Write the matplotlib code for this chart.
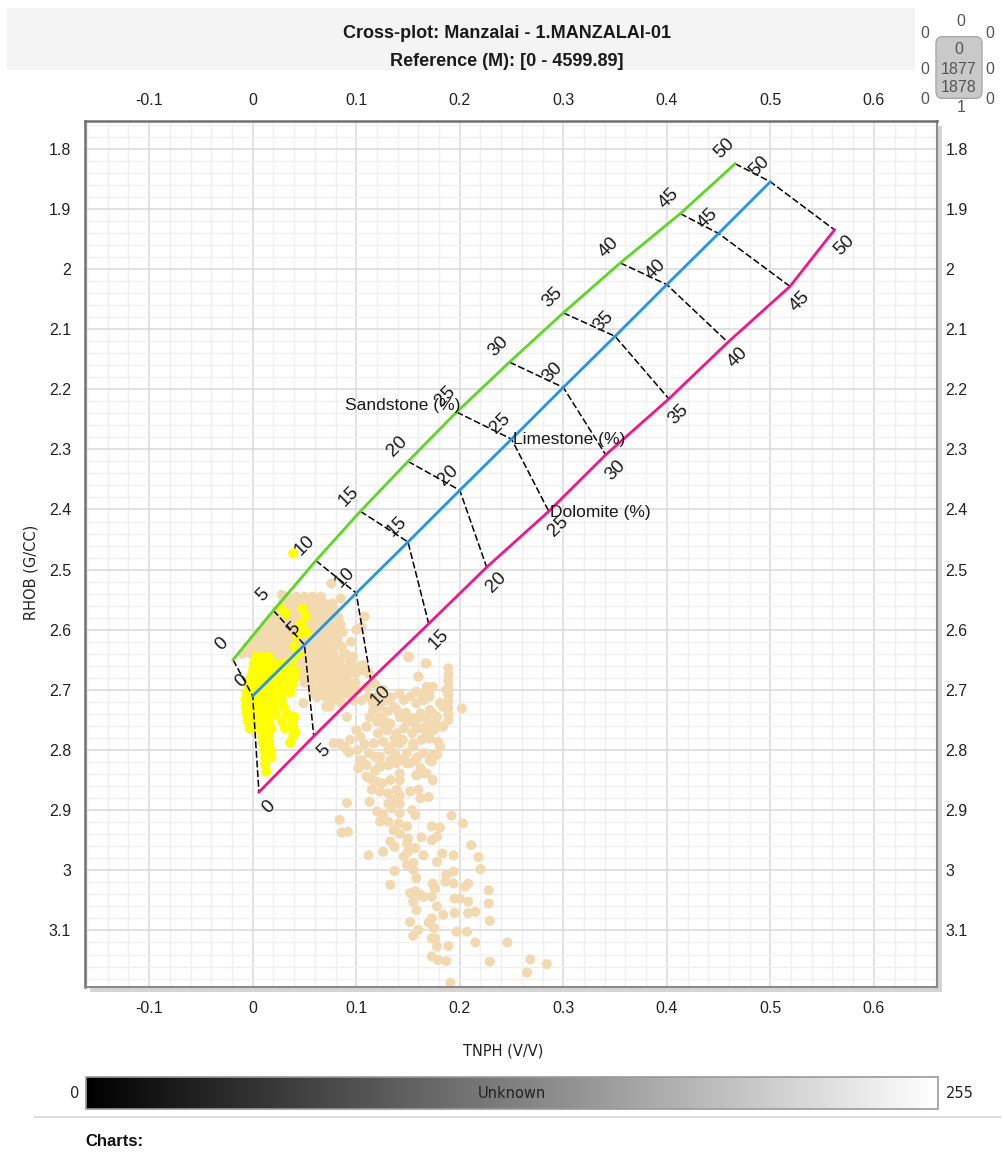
import matplotlib
matplotlib.use('Agg')
import matplotlib.pyplot as plt
from matplotlib.patches import Rectangle, FancyBboxPatch
from matplotlib.lines import Line2D
from matplotlib.ticker import MultipleLocator
import matplotlib.cm as cm
import matplotlib.colors as mcolors

# ---- chart data --------------------------------------------------------------
TITLE_1 = 'Cross-plot: Manzalai - 1.MANZALAI-01'
TITLE_2 = 'Reference (M): [0 - 4599.89]'
X_LABEL = 'TNPH (V/V)'
Y_LABEL = 'RHOB (G/CC)'
X_LIM = (-0.162, 0.661)
Y_LIM = (3.194, 1.754)
X_TICKS = [-0.1, 0, 0.1, 0.2, 0.3, 0.4, 0.5, 0.6]
Y_TICKS = [1.8, 1.9, 2.0, 2.1, 2.2, 2.3, 2.4, 2.5, 2.6, 2.7, 2.8, 2.9, 3.0, 3.1]

# lithology lines (porosity %, neutron, density)
POROSITY = [0, 5, 10, 15, 20, 25, 30, 35, 40, 45, 50]
SAND_TNPH = [-0.019, 0.020, 0.061, 0.104, 0.150, 0.197, 0.248, 0.300, 0.355, 0.413, 0.466]
SAND_RHOB = [2.650, 2.568, 2.485, 2.403, 2.320, 2.238, 2.155, 2.073, 1.990, 1.908, 1.825]
LIME_TNPH = [0.000, 0.050, 0.100, 0.150, 0.200, 0.250, 0.300, 0.350, 0.400, 0.450, 0.500]
LIME_RHOB = [2.710, 2.625, 2.539, 2.454, 2.368, 2.283, 2.197, 2.112, 2.026, 1.941, 1.855]
DOLO_TNPH = [0.006, 0.059, 0.114, 0.170, 0.226, 0.286, 0.341, 0.402, 0.459, 0.519, 0.562]
DOLO_RHOB = [2.870, 2.777, 2.683, 2.590, 2.496, 2.403, 2.309, 2.216, 2.122, 2.029, 1.935]
LITH_NAMES = ['Sandstone (%)', 'Limestone (%)', 'Dolomite (%)']

# tan (unknown zone) samples: dense blob rows (rhob, [tnph ...]) and scattered points
TAN_ROWS = [
    (2.545, [0.034, 0.042, 0.050, 0.058, 0.066]),
    (2.556, [0.029, 0.037, 0.045, 0.053, 0.061, 0.069, 0.077]),
    (2.568, [0.023, 0.031, 0.039, 0.047, 0.055, 0.063, 0.071, 0.079]),
    (2.580, [0.018, 0.026, 0.034, 0.042, 0.050, 0.058, 0.066, 0.074, 0.083]),
    (2.592, [0.012, 0.020, 0.028, 0.036, 0.044, 0.052, 0.060, 0.068, 0.076, 0.085]),
    (2.604, [0.006, 0.014, 0.022, 0.030, 0.038, 0.046, 0.054, 0.062, 0.070, 0.078, 0.087]),
    (2.616, [0.001, 0.009, 0.017, 0.025, 0.033, 0.041, 0.049, 0.057, 0.065, 0.073, 0.082]),
    (2.628, [-0.005, 0.003, 0.011, 0.019, 0.027, 0.035, 0.043, 0.051, 0.059, 0.067, 0.075, 0.086]),
    (2.640, [-0.010, -0.002, 0.006, 0.014, 0.022, 0.030, 0.038, 0.046, 0.054, 0.062, 0.070, 0.078, 0.090]),
    (2.652, [0.004, 0.012, 0.020, 0.028, 0.036, 0.044, 0.052, 0.060, 0.068, 0.076, 0.084, 0.094]),
    (2.664, [0.024, 0.032, 0.040, 0.048, 0.056, 0.064, 0.072, 0.080, 0.088, 0.097]),
    (2.676, [0.044, 0.052, 0.060, 0.068, 0.076, 0.084, 0.092]),
    (2.688, [0.050, 0.058, 0.066, 0.074, 0.082, 0.090, 0.099]),
    (2.700, [0.058, 0.066, 0.075, 0.088]),
    (2.712, [0.062, 0.071, 0.080]),
]
TAN_POINTS = [
    (0.076, 2.523), (0.028, 2.542), (0.085, 2.548),
    (0.108, 2.578), (0.105, 2.595), (0.100, 2.600), (0.095, 2.620),
    (0.068, 2.623), (0.078, 2.631), (0.088, 2.639), (0.097, 2.645), (0.076, 2.648),
    (0.084, 2.659), (0.092, 2.670), (0.071, 2.667), (0.080, 2.678), (0.088, 2.684),
    (0.068, 2.689), (0.075, 2.700), (0.091, 2.667), (0.100, 2.672), (0.107, 2.661),
    (0.110, 2.695), (0.094, 2.695), (0.087, 2.706), (0.078, 2.717), (0.071, 2.728),
    (0.065, 2.684), (0.055, 2.667), (0.052, 2.684), (0.058, 2.706), (0.049, 2.722),
    (0.106, 2.667), (0.112, 2.672), (0.104, 2.660), (0.102, 2.664),
    (0.150, 2.645), (0.160, 2.678), (0.167, 2.656), (0.168, 2.695), (0.163, 2.706),
    (0.171, 2.700), (0.151, 2.645), (0.168, 2.656), (0.160, 2.678), (0.158, 2.703),
    (0.174, 2.695),
    (0.189, 2.664), (0.189, 2.675), (0.189, 2.686), (0.189, 2.697), (0.189, 2.708),
    (0.189, 2.719), (0.189, 2.730), (0.189, 2.741), (0.189, 2.750),
    (0.202, 2.731), (0.181, 2.722), (0.171, 2.711), (0.142, 2.706), (0.129, 2.717),
    (0.116, 2.722), (0.123, 2.745), (0.139, 2.733), (0.149, 2.750), (0.162, 2.745),
    (0.174, 2.739), (0.184, 2.761), (0.091, 2.745), (0.100, 2.767), (0.110, 2.761),
    (0.084, 2.789), (0.091, 2.800), (0.104, 2.817), (0.110, 2.844), (0.116, 2.850),
    (0.123, 2.828), (0.133, 2.817), (0.142, 2.839), (0.152, 2.822), (0.162, 2.839),
    (0.171, 2.817), (0.174, 2.850), (0.181, 2.794), (0.155, 2.794), (0.168, 2.772),
    (0.145, 2.783),
    (0.088, 2.700), (0.080, 2.700), (0.094, 2.709), (0.101, 2.700), (0.086, 2.722),
    (0.075, 2.728), (0.097, 2.717), (0.105, 2.717), (0.112, 2.711), (0.120, 2.711),
    (0.123, 2.728), (0.130, 2.736), (0.136, 2.728), (0.146, 2.717), (0.152, 2.711),
    (0.158, 2.722), (0.165, 2.717), (0.113, 2.745), (0.120, 2.753), (0.126, 2.750),
    (0.133, 2.756), (0.142, 2.745), (0.149, 2.753), (0.155, 2.747), (0.162, 2.739),
    (0.171, 2.733), (0.178, 2.745), (0.184, 2.728), (0.187, 2.700), (0.110, 2.761),
    (0.121, 2.772), (0.130, 2.767), (0.139, 2.772), (0.146, 2.764), (0.154, 2.772),
    (0.160, 2.764), (0.167, 2.761), (0.175, 2.767), (0.183, 2.761), (0.094, 2.783),
    (0.104, 2.778), (0.117, 2.789), (0.126, 2.786), (0.134, 2.794), (0.142, 2.789),
    (0.155, 2.789), (0.163, 2.783), (0.171, 2.781), (0.179, 2.786), (0.078, 2.789),
    (0.088, 2.794), (0.101, 2.800), (0.112, 2.805), (0.123, 2.811), (0.138, 2.808),
    (0.149, 2.805), (0.165, 2.805), (0.178, 2.808), (0.105, 2.667), (0.112, 2.673),
    (0.107, 2.659), (0.102, 2.664),
    (0.118, 2.690), (0.126, 2.700), (0.134, 2.712), (0.116, 2.735), (0.127, 2.760),
    (0.137, 2.780), (0.148, 2.738), (0.157, 2.757), (0.168, 2.748), (0.176, 2.756),
    (0.108, 2.790), (0.131, 2.800), (0.145, 2.815), (0.159, 2.812), (0.118, 2.835),
    (0.093, 2.804), (0.105, 2.817), (0.102, 2.830), (0.110, 2.825), (0.118, 2.811),
    (0.123, 2.825), (0.131, 2.825), (0.139, 2.822), (0.149, 2.822), (0.157, 2.817),
    (0.162, 2.830), (0.168, 2.839), (0.158, 2.842), (0.173, 2.819), (0.174, 2.808),
    (0.113, 2.847), (0.120, 2.853), (0.125, 2.855), (0.133, 2.850), (0.142, 2.850),
    (0.115, 2.866), (0.123, 2.869), (0.131, 2.872), (0.139, 2.866), (0.142, 2.875),
    (0.152, 2.869), (0.160, 2.866), (0.162, 2.880), (0.170, 2.878), (0.091, 2.888),
    (0.113, 2.886), (0.131, 2.889), (0.137, 2.883), (0.142, 2.889), (0.134, 2.897),
    (0.120, 2.902), (0.126, 2.908), (0.142, 2.905), (0.154, 2.900), (0.157, 2.908),
    (0.084, 2.916), (0.123, 2.919), (0.131, 2.919), (0.141, 2.922), (0.149, 2.927),
    (0.173, 2.927), (0.181, 2.929), (0.192, 2.909), (0.203, 2.922), (0.086, 2.937),
    (0.092, 2.936), (0.136, 2.933), (0.142, 2.939), (0.150, 2.947), (0.163, 2.945),
    (0.173, 2.950), (0.178, 2.944), (0.149, 2.955), (0.157, 2.963), (0.133, 2.952),
    (0.137, 2.961), (0.126, 2.969), (0.112, 2.975), (0.146, 2.977), (0.150, 2.969),
    (0.165, 2.975), (0.183, 2.972), (0.194, 2.975), (0.211, 2.958), (0.218, 2.978),
    (0.149, 2.991), (0.155, 2.988), (0.178, 2.986), (0.137, 3.001), (0.155, 2.999),
    (0.158, 3.013), (0.187, 3.008), (0.194, 3.002), (0.220, 2.998), (0.133, 3.024),
    (0.152, 3.038), (0.157, 3.035), (0.162, 3.041), (0.174, 3.022), (0.176, 3.030),
    (0.186, 3.019), (0.194, 3.022), (0.205, 3.027), (0.208, 3.022), (0.228, 3.033),
    (0.155, 3.052), (0.165, 3.044), (0.173, 3.044), (0.195, 3.047), (0.200, 3.047),
    (0.208, 3.052), (0.228, 3.055), (0.158, 3.066), (0.178, 3.060), (0.184, 3.074),
    (0.195, 3.071), (0.208, 3.071), (0.215, 3.069), (0.229, 3.084), (0.152, 3.086),
    (0.170, 3.087), (0.173, 3.080), (0.160, 3.099), (0.155, 3.109), (0.175, 3.096),
    (0.197, 3.102), (0.207, 3.102), (0.173, 3.113), (0.176, 3.113), (0.178, 3.127),
    (0.189, 3.126), (0.215, 3.120), (0.246, 3.120), (0.173, 3.143), (0.179, 3.149),
    (0.187, 3.151), (0.229, 3.152), (0.268, 3.148), (0.265, 3.170), (0.284, 3.156),
    (0.191, 3.187),
]

# yellow (flagged zone) samples: dense rows and scattered points
YELLOW_ROWS = [
    (2.645, [0.003, 0.009, 0.015]),
    (2.656, [0.001, 0.008, 0.015, 0.022, 0.030]),
    (2.668, [0.000, 0.007, 0.014, 0.021, 0.028, 0.035, 0.041]),
    (2.680, [-0.002, 0.005, 0.012, 0.019, 0.026, 0.033, 0.040]),
    (2.692, [-0.004, 0.003, 0.010, 0.017, 0.024, 0.031, 0.038]),
    (2.704, [-0.006, 0.001, 0.008, 0.015, 0.022, 0.029, 0.036]),
    (2.716, [-0.007, 0.000, 0.007, 0.014, 0.021, 0.028]),
    (2.728, [-0.007, 0.000, 0.007, 0.014, 0.021, 0.030]),
    (2.740, [-0.006, 0.001, 0.008, 0.015, 0.022, 0.033]),
    (2.752, [-0.005, 0.002, 0.009, 0.016, 0.028, 0.038]),
    (2.764, [-0.003, 0.004, 0.011, 0.018, 0.031]),
    (2.776, [0.009, 0.015, 0.039]),
    (2.788, [0.010, 0.016, 0.036]),
    (2.800, [0.011, 0.017]),
    (2.812, [0.012, 0.018]),
    (2.824, [0.012]),
    (2.836, [0.013]),
]
YELLOW_POINTS = [
    (0.039, 2.473), (0.048, 2.565), (0.051, 2.578), (0.046, 2.590), (0.028, 2.566),
    (0.032, 2.574), (0.049, 2.600), (0.052, 2.606), (0.043, 2.612), (0.040, 2.628),
    (0.044, 2.640), (0.038, 2.650), (0.040, 2.745), (0.038, 2.760), (0.041, 2.770),
]

TAN_COLOR = '#F2D9AF'
YELLOW_COLOR = '#FFFF00'
SAND_COLOR = '#5CD627'
LIME_COLOR = '#1E96EE'
DOLO_COLOR = '#F2168C'

W, H = 1004, 1153


def fx(px):
    return px / W


def fy(py):
    return 1 - py / H


def expand(rows, points):
    xs, ys = [], []
    for rho, tnphs in rows:
        for t in tnphs:
            xs.append(t)
            ys.append(rho)
    for t, rho in points:
        xs.append(t)
        ys.append(rho)
    return xs, ys


plt.rcParams['font.family'] = ['Liberation Sans', 'DejaVu Sans']
fig = plt.figure(figsize=(W / 100, H / 100), dpi=100)

# header band
fig.patches.append(Rectangle((fx(7), fy(70)), fx(915) - fx(7), fy(8) - fy(70),
                             transform=fig.transFigure, facecolor='#f4f4f4',
                             edgecolor='none', zorder=-10))
fig.text(fx(507), fy(33), TITLE_1, ha='center', va='center', fontsize=13,
         fontweight='bold', color='#1a1a1a')
fig.text(fx(507), fy(62), TITLE_2, ha='center', va='center', fontsize=13,
         fontweight='bold', color='#1a1a1a')

# axes and its drop shadow
left, right, top, bottom = 85, 937, 121, 987
fig.patches.append(Rectangle((fx(left + 5), fy(bottom + 5)), fx(right) - fx(left),
                             fy(top) - fy(bottom), transform=fig.transFigure,
                             facecolor='#d4d4d4', edgecolor='none', zorder=-10))
ax = fig.add_axes([fx(left), fy(bottom), fx(right) - fx(left), fy(top) - fy(bottom)])
ax.set_xlim(*X_LIM)
ax.set_ylim(*Y_LIM)
ax.set_axisbelow(True)

ax.set_xticks(X_TICKS)
ax.set_xticklabels([f'{v:g}' for v in X_TICKS])
ax.set_yticks(Y_TICKS)
ax.set_yticklabels([f'{v:g}' for v in Y_TICKS])
ax.xaxis.set_minor_locator(MultipleLocator(0.02))
ax.yaxis.set_minor_locator(MultipleLocator(0.02))
ax.grid(which='major', color='#dcdcdc', lw=1.2)
ax.grid(which='minor', color='#efefef', lw=0.9)
ax.tick_params(which='both', length=0, labelsize=11.5, colors='#222222')
ax.tick_params(axis='x', pad=10)
ax.tick_params(axis='y', pad=10)
for side in ['top', 'left']:
    ax.spines[side].set_color('#707070')
    ax.spines[side].set_linewidth(1.8)
for side in ['right', 'bottom']:
    ax.spines[side].set_color('#8a8a8a')
    ax.spines[side].set_linewidth(1.5)

secx = ax.secondary_xaxis('top')
secx.set_xticks(X_TICKS)
secx.set_xticklabels([f'{v:g}' for v in X_TICKS])
secx.tick_params(length=0, pad=9, labelsize=11.5, colors='#222222')
secy = ax.secondary_yaxis('right')
secy.set_yticks(Y_TICKS)
secy.set_yticklabels([f'{v:g}' for v in Y_TICKS])
secy.tick_params(length=0, pad=6, labelsize=11.5, colors='#222222')
for s in (secx, secy):
    for sp in s.spines.values():
        sp.set_visible(False)

fig.text(fx(31), fy(572), Y_LABEL, rotation=90, ha='center', va='center',
         fontsize=10.5, family='DejaVu Sans', color='#222222')
fig.text(fx(503), fy(1051), X_LABEL, ha='center', va='center',
         fontsize=10.5, family='DejaVu Sans', color='#222222')

# samples
tx, ty = expand(TAN_ROWS, TAN_POINTS)
ax.scatter(tx, ty, s=52, color=TAN_COLOR, edgecolors='none', zorder=2)
yx, yy = expand(YELLOW_ROWS, YELLOW_POINTS)
ax.scatter(yx, yy, s=52, color=YELLOW_COLOR, edgecolors='none', zorder=3)

# porosity connectors
for i in range(len(POROSITY)):
    ax.plot([SAND_TNPH[i], LIME_TNPH[i], DOLO_TNPH[i]],
            [SAND_RHOB[i], LIME_RHOB[i], DOLO_RHOB[i]],
            color='black', lw=1.1, ls=(0, (4.5, 1.8)), zorder=4)

# lithology lines
lines = [(SAND_TNPH, SAND_RHOB, SAND_COLOR, (-8, 11)),
         (LIME_TNPH, LIME_RHOB, LIME_COLOR, (-8, 11)),
         (DOLO_TNPH, DOLO_RHOB, DOLO_COLOR, (7, -11))]
for xs, ys, col, off in lines:
    ax.plot(xs, ys, color=col, lw=2, zorder=5)
    for p, x, y in zip(POROSITY, xs, ys):
        ax.annotate(str(p), (x, y), xytext=off, textcoords='offset points',
                    rotation=45, ha='center', va='center', fontsize=13.5,
                    color='#1a1a1a', zorder=6)

mid = POROSITY.index(25)
ax.annotate(LITH_NAMES[0], (SAND_TNPH[mid], SAND_RHOB[mid]), xytext=(3, 5),
            textcoords='offset points', ha='right', va='center', fontsize=12.5,
            color='#1a1a1a', zorder=6)
ax.annotate(LITH_NAMES[1], (LIME_TNPH[mid], LIME_RHOB[mid]), xytext=(1, 0),
            textcoords='offset points', ha='left', va='center', fontsize=12.5,
            color='#1a1a1a', zorder=6)
ax.annotate(LITH_NAMES[2], (DOLO_TNPH[mid], DOLO_RHOB[mid]), xytext=(1, -1),
            textcoords='offset points', ha='left', va='center', fontsize=12.5,
            color='#1a1a1a', zorder=6)

# colour scale
cax = fig.add_axes([fx(86), fy(1109), fx(938) - fx(86), fy(1077) - fy(1109)])
sm = cm.ScalarMappable(norm=mcolors.Normalize(0, 255), cmap='gray')
cb = fig.colorbar(sm, cax=cax, orientation='horizontal')
cb.set_ticks([])
cb.outline.set_edgecolor('#9a9a9a')
cb.outline.set_linewidth(1.2)
cax.text(0.5, 0.5, 'Unknown', transform=cax.transAxes, ha='center', va='center',
         fontsize=10.5, family='DejaVu Sans', color='#222222')
fig.text(fx(75), fy(1094), '0', ha='center', va='center', fontsize=10.5,
         family='DejaVu Sans', color='#222222')
fig.text(fx(960), fy(1094), '255', ha='center', va='center', fontsize=10.5,
         family='DejaVu Sans', color='#222222')
fig.lines.append(Line2D([fx(35), fx(1000)], [fy(1117), fy(1117)],
                        transform=fig.transFigure, color='#dedede', lw=1.5))
fig.text(fx(85), fy(1141), 'Charts:', ha='left', va='center', fontsize=12,
         fontweight='bold', color='#111111')

# small navigation widget in the top-right corner
fig.patches.append(FancyBboxPatch((fx(938), fy(96)), fx(980) - fx(938), fy(39) - fy(96),
                                  boxstyle='round,pad=0.002,rounding_size=0.006',
                                  transform=fig.transFigure, facecolor='#c9c9c9',
                                  edgecolor='#a8a8a8', lw=1))
widget = [(925, 33, '0'), (961, 22, '0'), (990, 33, '0'),
          (925, 70, '0'), (990, 70, '0'),
          (925, 100, '0'), (961, 107, '1'), (990, 100, '0'),
          (959, 50, '0'), (959, 70, '1877'), (959, 87, '1878')]
for px, py, t in widget:
    fig.text(fx(px), fy(py), t, ha='center', va='center', fontsize=11.5,
             color='#555555')

fig.savefig('out.png', dpi=100)
